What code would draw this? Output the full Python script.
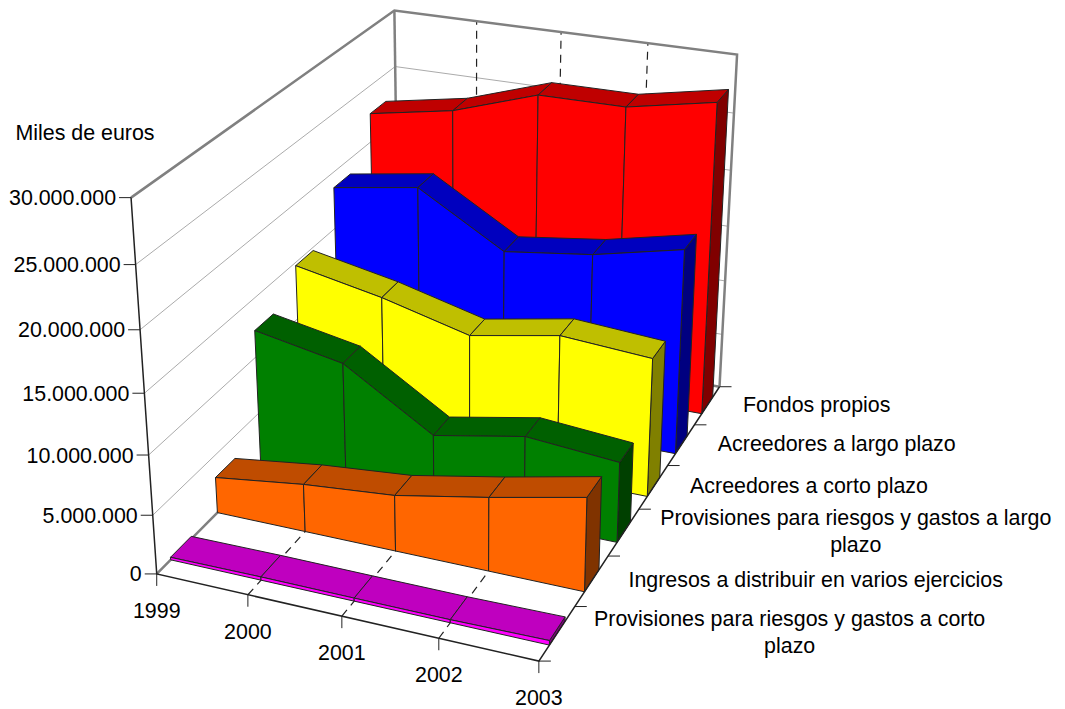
import numpy as np, pandas as pd, altair as alt

YEARS = ["1999","2000","2001","2002","2003"]
Y_LABELS = ["0","5.000.000","10.000.000","15.000.000","20.000.000","25.000.000","30.000.000"]
SERIES = ["Provisiones para riesgos y gastos a corto plazo","Ingresos a distribuir en varios ejercicios",
          "Provisiones para riesgos y gastos a largo plazo","Acreedores a corto plazo","Acreedores a largo plazo","Fondos propios"]
# millions of euros
PROV_CORTO = [0.22, 0.28, 0.26, 0.26, 0.38]
INGRESOS = [3.11, 4.12, 4.8, 6.27, 7.91]
PROV_LARGO = [12.29, 10.85, 6.1, 7.55, 6.9]
ACR_CORTO = [14.72, 13.22, 11.26, 12.64, 12.08]
ACR_LARGO = [18.64, 19.81, 15.41, 16.41, 18.1]
FONDOS = [22.54, 23.86, 26.27, 26.29, 27.73]
VALUES = [PROV_CORTO, INGRESOS, PROV_LARGO, ACR_CORTO, ACR_LARGO, FONDOS]
FACE = ["#FF00FF","#FF6600","#008000","#FFFF00","#0000FF","#FF0000"]
TOP  = ["#BF00BF","#BF4C00","#006000","#BFBF00","#0000BF","#BF0000"]
SIDE = ["#800080","#803300","#004000","#808000","#000080","#800000"]
Z0, Z1 = 0.285, 0.72

# Camera: 3D (year index/4, series depth/6, value/30) -> screen
P = np.array([[0.2582732701052495, 0.24553625365608509, -0.02633964696122059, 0.1157664955602852],
              [0.034966612576115816, -0.12588368662125524, -0.2890611947263899, 0.42392261734173703],
              [-0.04447478554047107, 0.16694166380438646, -0.05622674302510744, 0.7386244708622526]])
def proj(x,z,v):
    h=P@np.array([x/4,z/6,v/30,1]); return 1000*h[0]/h[2],1000*h[1]/h[2]

sx=alt.Scale(domain=[8,1057],range=[0,1049],nice=False,zero=False)
sy=alt.Scale(domain=[8,709],range=[0,701],nice=False,zero=False)
X=alt.X("px:Q",scale=sx,axis=None); Y=alt.Y("py:Q",scale=sy,axis=None)
def seglayer(segs,**mk):
    rows=[]
    for s,pts in enumerate(segs):
        for j,c in enumerate(pts):
            a,b=proj(*c); rows.append(dict(px=a,py=b,s=s,o=j))
    return alt.Chart(pd.DataFrame(rows)).mark_line(**mk).encode(x=X,y=Y,detail="s:N",order="o:Q")

grid=[[(0,0,v),(0,6,v),(4,6,v)] for v in range(5,30,5)]
dash=[[(k,0,0),(k,6,0),(k,6,30)] for k in (1,2,3)]
walls=[[(0,0,30),(0,6,30),(4,6,30),(4,6,0)],[(0,6,30),(0,6,0)],[(0,0,0),(0,6,0),(4,6,0)]]
axes=[[(0,0,30),(0,0,0),(4,0,0),(4,6,0)]]
polys=[]
pid=0
def add(color,pts):
    global pid
    pts=pts+[pts[0]]
    for j,c in enumerate(pts):
        a,b=proj(*c); polys.append(dict(px=a,py=b,s=f"{pid:03d}",o=j,c=color))
    pid+=1
for i in range(5,-1,-1):
    z0,z1=i+Z0,i+Z1; V=VALUES[i]
    add(SIDE[i],[(4,z0,0),(4,z1,0),(4,z1,V[4]),(4,z0,V[4])])
    for k in range(4):
        add(TOP[i],[(k,z0,V[k]),(k+1,z0,V[k+1]),(k+1,z1,V[k+1]),(k,z1,V[k])])
    for k in range(4):
        add(FACE[i],[(k,z0,0),(k+1,z0,0),(k+1,z0,V[k+1]),(k,z0,V[k])])
polyL=alt.Chart(pd.DataFrame(polys)).mark_line(stroke="#222222",strokeWidth=1,strokeJoin="miter").encode(
    x=X,y=Y,detail="s:N",order="o:Q",fill=alt.Fill("c:N",scale=None,legend=None))

ticks=[]
TL=12
for v in range(0,35,5):
    a,b=proj(0,0,v); ticks.append(dict(px=a,py=b,s=f"y{v}",o=0)); ticks.append(dict(px=a-TL,py=b,s=f"y{v}",o=1))
for k in range(5):
    a,b=proj(k,0,0); ticks.append(dict(px=a,py=b,s=f"x{k}",o=0)); ticks.append(dict(px=a,py=b+TL,s=f"x{k}",o=1))
for z in range(7):
    a,b=proj(4,z,0); ticks.append(dict(px=a,py=b,s=f"z{z}",o=0)); ticks.append(dict(px=a+TL,py=b,s=f"z{z}",o=1))
tickL=alt.Chart(pd.DataFrame(ticks)).mark_line(color="#222222",strokeWidth=1).encode(x=X,y=Y,detail="s:N",order="o:Q")

WIDTHS=[392,375,391,238,238,146]
texts=[]
for v,l in zip(range(0,35,5),Y_LABELS):
    a,b=proj(0,0,v); texts.append(dict(px=a-15,py=b+1.5,t=l,al="right"))
for k,l in enumerate(YEARS):
    a,b=proj(k,0,0); texts.append(dict(px=a,py=b+38,t=l,al="center"))
for i,l in enumerate(SERIES):
    a,b=proj(4,i+.5,0); cx=a+36.5+WIDTHS[i]/2
    if i in (0,2):
        head=l[:-6]
        texts.append(dict(px=cx,py=b-13.5,t=head,al="center")); texts.append(dict(px=cx,py=b+13.5,t="plazo",al="center"))
    else:
        texts.append(dict(px=cx,py=b+0.5,t=l,al="center"))
texts.append(dict(px=85,py=134,t="Miles de euros",al="center"))
tdf=pd.DataFrame(texts)
def tl(al):
    return alt.Chart(tdf[tdf.al==al]).mark_text(font="Liberation Sans",fontSize=21.4,align=al,baseline="middle",color="#000000").encode(x=X,y=Y,text="t:N")

chart=alt.layer(
    seglayer(grid,color="#ABABAB",strokeWidth=1),
    seglayer(dash,color="#222222",strokeWidth=1.2,strokeDash=[8,6]),
    seglayer(walls,color="#808080",strokeWidth=2.5),
    polyL,
    seglayer(axes,color="#222222",strokeWidth=1.5),
    tickL,tl("right"),tl("center")
).properties(width=1049,height=701,padding=0,background="#FFFFFF",autosize=alt.AutoSizeParams(type="none")).configure_view(stroke=None)
chart.save("out.html",embed_options={"renderer":"svg","actions":False})
